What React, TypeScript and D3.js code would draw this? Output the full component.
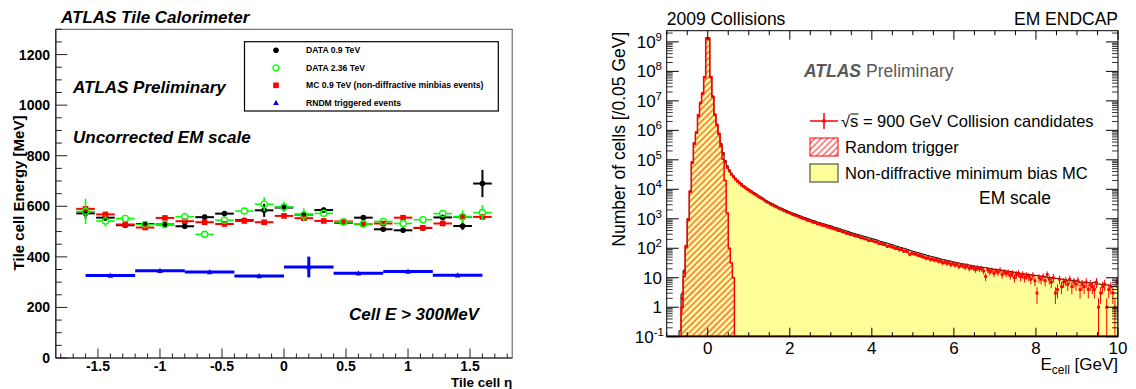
import React from 'react';
import * as d3 from 'd3';

// ================= LEFT CHART DATA (Tile cell energy vs eta) =================
const etaBins = [-1.6, -1.44, -1.28, -1.12, -0.96, -0.8, -0.64, -0.48, -0.32, -0.16, 0, 0.16, 0.32, 0.48, 0.64, 0.8, 0.96, 1.12, 1.28, 1.44, 1.6];
const etaHalfWidth = 0.075;
const data09 = [572, 555, 525, 530, 528, 521, 557, 571, 545, 584, 595, 567, 585, 535, 555, 509, 505, 514, 556, 522, 690];
const data09Err = [20, 12, 8, 8, 8, 8, 10, 8, 8, 26, 12, 12, 10, 8, 10, 8, 10, 8, 8, 15, 54];
const data236 = [580, 542, 552, 528, 528, 559, 489, 545, 581, 608, 597, 566, 572, 538, 530, 540, 532, 547, 571, 559, 575];
const data236Err = [50, 22, 10, 10, 12, 10, 8, 10, 10, 28, 20, 25, 12, 10, 15, 10, 12, 10, 10, 25, 30];
const mc09 = [590, 568, 528, 516, 554, 541, 537, 530, 542, 537, 562, 553, 542, 540, 529, 532, 555, 515, 532, 558, 558];
const rndmEta = [-1.4, -1.0, -0.6, -0.2, 0.2, 0.6, 1.0, 1.4];
const rndmHalfWidth = 0.2;
const rndm = [326, 345, 340, 324, 360, 335, 342, 327];
const rndmErr = [3, 3, 3, 3, 41, 3, 3, 3];
const leftXMajor = [-1.5, -1, -0.5, 0, 0.5, 1, 1.5];
const leftXLabels = ['-1.5', '-1', '-0.5', '0', '0.5', '1', '1.5'];
const leftYMajor = [0, 200, 400, 600, 800, 1000, 1200];
const leftLegend = ['DATA 0.9 TeV', 'DATA 2.36 TeV', 'MC 0.9 TeV (non-diffractive minbias events)', 'RNDM triggered events'];

// ================= RIGHT CHART DATA (EM endcap cell energy) =================
const binStart = -0.7; // GeV, low edge of first bin
const binWidth = 0.05; // GeV
// log10(number of cells) of the non-diffractive minimum bias MC, bins from -0.70 GeV
const mcLog10 = [
  -0.80, 0.45, 1.25, 2.10, 3.00, 3.95, 4.93, 5.57, 5.92, 6.52, 6.93, 7.26, 7.82, 9.12, 9.12, 7.82, 7.16, 6.55, 6.20, 5.90, 5.55, 5.25,
  4.98, 4.80, 4.66, 4.55, 4.46, 4.38, 4.31, 4.25, 4.19, 4.13, 4.08, 4.03,
  3.98, 3.94, 3.89, 3.85, 3.80, 3.76, 3.71, 3.67, 3.62, 3.58, 3.54, 3.51, 3.47, 3.44, 3.40, 3.37, 3.34, 3.31, 3.28, 3.25,
  3.22, 3.19, 3.17, 3.14, 3.11, 3.09, 3.06, 3.04, 3.01, 2.99, 2.96, 2.94, 2.92, 2.89, 2.87, 2.85, 2.83, 2.81, 2.79, 2.77,
  2.75, 2.72, 2.70, 2.68, 2.66, 2.63, 2.61, 2.59, 2.57, 2.54, 2.52, 2.50, 2.48, 2.46, 2.44, 2.42, 2.40, 2.38, 2.36, 2.34,
  2.32, 2.30, 2.28, 2.25, 2.23, 2.21, 2.19, 2.17, 2.15, 2.13, 2.11, 2.08, 2.06, 2.04, 2.02, 2.00, 1.98, 1.96, 1.93, 1.91,
  1.89, 1.87, 1.85, 1.83, 1.81, 1.79, 1.77, 1.75, 1.73, 1.71, 1.70, 1.68, 1.66, 1.64, 1.62, 1.61, 1.59, 1.58, 1.56, 1.54,
  1.53, 1.51, 1.50, 1.48, 1.47, 1.46, 1.44, 1.43, 1.42, 1.41, 1.39, 1.38, 1.37, 1.36, 1.35, 1.34, 1.33, 1.31, 1.30, 1.29,
  1.28, 1.27, 1.26, 1.25, 1.24, 1.23, 1.22, 1.21, 1.20, 1.19, 1.17, 1.16, 1.15, 1.14, 1.13, 1.12, 1.11, 1.10, 1.09, 1.08,
  1.07, 1.06, 1.05, 1.04, 1.03, 1.02, 1.01, 1.00, 0.99, 0.98, 0.97, 0.96, 0.95, 0.94, 0.93, 0.92, 0.91, 0.90, 0.92, 0.89,
  0.88, 0.84, 0.86, 0.85, 0.84, 0.83, 0.82, 0.82, 0.85, 0.78, 0.79, 0.78, 0.77, 0.79, 0.76, 0.75, 0.74, 0.70, 0.72, 0.70,
];
// log10(number of cells) of sqrt(s)=900 GeV collision candidates, same bins (null = empty)
const dataLog10 = [
  null, 0.30, 1.20, 2.05, 2.98, 3.93, 4.90, 5.55, 5.93, 6.50, 6.93, 7.25, 7.80, 9.12, 9.12, 7.80, 7.14, 6.53, 6.18, 5.88, 5.50, 5.20,
  4.92, 4.74, 4.62, 4.51, 4.42, 4.34, 4.27, 4.21, 4.14, 4.09, 4.04, 3.99,
  3.94, 3.90, 3.85, 3.81, 3.76, 3.72, 3.68, 3.63, 3.58, 3.55, 3.50, 3.47, 3.43, 3.40, 3.36, 3.33, 3.30, 3.27, 3.23, 3.21,
  3.18, 3.14, 3.12, 3.10, 3.06, 3.04, 3.01, 2.99, 2.95, 2.94, 2.91, 2.88, 2.87, 2.83, 2.82, 2.79, 2.77, 2.76, 2.72, 2.71,
  2.68, 2.66, 2.64, 2.60, 2.60, 2.56, 2.55, 2.51, 2.50, 2.47, 2.46, 2.43, 2.41, 2.40, 2.36, 2.35, 2.32, 2.31, 2.26, 2.27,
  2.25, 2.22, 2.21, 2.16, 2.16, 2.13, 2.12, 2.06, 2.08, 2.05, 2.03, 1.99, 1.99, 1.95, 1.96, 1.90, 1.91, 1.88, 1.79, 1.84,
  1.81, 1.80, 1.76, 1.75, 1.72, 1.70, 1.66, 1.68, 1.62, 1.64, 1.60, 1.61, 1.56, 1.58, 1.51, 1.54, 1.49, 1.52, 1.45, 1.49,
  1.43, 1.46, 1.38, 1.43, 1.40, 1.36, 1.41, 1.32, 1.36, 1.34, 1.28, 1.34, 1.30, 1.32, 1.23, 1.04, 1.28, 1.20, 1.26, 1.15,
  1.23, 1.18, 1.26, 1.11, 1.20, 1.15, 1.18, 1.08, 1.15, 1.00, 1.11, 1.15, 1.04, 1.11, 1.00, 1.08, 1.04, 0.95, 1.08, 0.90,
  0.48, 1.00, 0.95, 1.04, 0.90, 1.11, 0.95, 0.85, 1.00, 0.48, 0.60, 0.95, 0.70, 0.85, 0.90, 0.78, 0.95, 0.70, 0.85, 0.78,
  0.90, 0.60, 0.78, 0.70, 0.85, 0.60, 0.78, 0.70, 0.60, 0.85, 0.00, 0.48, 0.70, 0.78, 0.00, 0.60, 0.70, 0.48, 0.00, 0.85,
];
// log10(number of cells) of the random-trigger sample, bins from -0.65 GeV
const rtStart = -0.65;
const rtLog10 = [0.00, 1.03, 2.05, 2.96, 3.92, 4.93, 5.56, 5.90, 6.52, 6.92, 7.25, 7.81, 9.12, 9.12, 7.81, 7.14, 6.52, 6.18, 5.87, 5.45, 5.02, 4.30, 3.20, 2.00, 1.50, 1.00];
const rightXMajor = [0, 2, 4, 6, 8, 10];
const rightYExp = [-1, 0, 1, 2, 3, 4, 5, 6, 7, 8, 9];
const rightLegend = ['= 900 GeV Collision candidates', 'Random trigger', 'Non-diffractive minimum bias MC'];

const FONT = 'Liberation Sans, Arial, Helvetica, sans-serif';

export default function App() {
  // ---------- left scales ----------
  const xL = d3.scaleLinear().domain([-1.84, 1.84]).range([55.8, 512.2]);
  const yL = d3.scaleLinear().domain([0, 1300]).range([358, 29.3]);
  const [lx0, lx1] = xL.range();
  const [ly0, ly1] = yL.range();
  const leftXMinor = d3.range(-18, 19).map((k) => k / 10);
  const leftYMinor = d3.range(0, 1301, 50);

  // ---------- right scales ----------
  const xR = d3.scaleLinear().domain([-1, 10]).range([666.7, 1118]);
  const yR = d3.scaleLog().domain([0.1, 2.4e9]).range([336.7, 30.7]).clamp(true);
  const [rx0, rx1] = xR.range();
  const [ry0, ry1] = yR.range();
  const rightXMinor = d3.range(-2, 21).map((k) => k / 2);
  const rightYMinor: number[] = [];
  for (let e = -1; e <= 9; e++) for (let m = 2; m <= 9; m++) { const v = m * Math.pow(10, e); if (v < 2.4e9) rightYMinor.push(v); }

  const histPoints = (vals: (number | null)[], start: number) => {
    const pts: [number, number][] = [];
    vals.forEach((v, i) => {
      const a = start + i * binWidth;
      const c = v == null ? 0.1 : Math.pow(10, v);
      pts.push([xR(a), yR(c)], [xR(a + binWidth), yR(c)]);
    });
    return pts;
  };
  const mcPts = histPoints(mcLog10, binStart);
  const rtPts = histPoints(rtLog10, rtStart);
  const area = d3.area<[number, number]>().x((d) => d[0]).y0(ry0).y1((d) => d[1]);
  const closedLine = (pts: [number, number][]) => {
    const p: [number, number][] = [[pts[0][0], ry0], ...pts, [pts[pts.length - 1][0], ry0]];
    return d3.line()(p) || '';
  };

  const tri = (cx: number, cy: number, s: number) => `M${cx},${cy - s * 0.6}L${cx + s * 0.55},${cy + s * 0.45}L${cx - s * 0.55},${cy + s * 0.45}Z`;

  return (
    <svg width={1136} height={389} style={{ position: 'absolute', left: 0, top: 0, background: '#fff' }} fontFamily={FONT}>
      <defs>
        <pattern id="hatch" patternUnits="userSpaceOnUse" width={4.4} height={4.4} patternTransform="rotate(45)">
          <line x1={1} y1={-1} x2={1} y2={5.4} stroke="#ff2020" strokeWidth={1} />
        </pattern>
        <clipPath id="rclip"><rect x={rx0} y={ry1} width={rx1 - rx0} height={ry0 - ry1} /></clipPath>
      </defs>

      {/* ================= LEFT CHART ================= */}
      <text x={61} y={23.3} fontSize={17} fontWeight="bold" fontStyle="italic">ATLAS Tile Calorimeter</text>
      <rect x={lx0} y={ly1} width={lx1 - lx0} height={ly0 - ly1} fill="none" stroke="#555" strokeWidth={1} />
      <line x1={lx0} y1={ly1} x2={lx0} y2={ly0} stroke="#222" strokeWidth={1.2} />
      <line x1={lx0} y1={ly0} x2={lx1} y2={ly0} stroke="#222" strokeWidth={1.2} />
      {leftXMinor.map((v) => (
        <line key={'lxm' + v} x1={xL(v)} x2={xL(v)} y1={ly0} y2={ly0 - (leftXMajor.some((m) => Math.abs(m - v) < 1e-6) ? 9.5 : 4.5)} stroke="#222" strokeWidth={1} />
      ))}
      {leftXMajor.map((v, i) => (
        <text key={'lxl' + v} x={xL(v)} y={371} fontSize={14} fontWeight="bold" textAnchor="middle">{leftXLabels[i]}</text>
      ))}
      {leftYMinor.map((v) => (
        <line key={'lym' + v} x1={lx0} x2={lx0 + (v % 200 === 0 ? 11.5 : 6)} y1={yL(v)} y2={yL(v)} stroke="#222" strokeWidth={1} />
      ))}
      {leftYMajor.map((v) => (
        <text key={'lyl' + v} x={50} y={yL(v) + 5} fontSize={14} fontWeight="bold" textAnchor="end">{v}</text>
      ))}
      <text transform={`translate(24,193) rotate(-90)`} fontSize={15} fontWeight="bold" textAnchor="middle">Tile cell Energy [MeV]</text>
      <text x={lx1} y={386.5} fontSize={13.5} fontWeight="bold" textAnchor="end">Tile cell η</text>

      <text x={73} y={93.3} fontSize={17} fontWeight="bold" fontStyle="italic">ATLAS Preliminary</text>
      <text x={73} y={142.7} fontSize={17} fontWeight="bold" fontStyle="italic">Uncorrected EM scale</text>
      <text x={349} y={320} fontSize={17} fontWeight="bold" fontStyle="italic">Cell E &gt; 300MeV</text>

      {/* RNDM (blue) */}
      {rndmEta.map((e, i) => (
        <g key={'rn' + i}>
          <line x1={xL(e - rndmHalfWidth)} x2={xL(e + rndmHalfWidth)} y1={yL(rndm[i])} y2={yL(rndm[i])} stroke="#0000ff" strokeWidth={3} />
          <line x1={xL(e)} x2={xL(e)} y1={yL(rndm[i] - rndmErr[i])} y2={yL(rndm[i] + rndmErr[i])} stroke="#0000ff" strokeWidth={3} />
          <path d={tri(xL(e), yL(rndm[i]), 5)} fill="#0000ff" />
        </g>
      ))}
      {/* DATA 0.9 TeV (black) */}
      {etaBins.map((e, i) => (
        <g key={'d09' + i}>
          <line x1={xL(e - etaHalfWidth)} x2={xL(e + etaHalfWidth)} y1={yL(data09[i])} y2={yL(data09[i])} stroke="#000" strokeWidth={2} />
          <line x1={xL(e)} x2={xL(e)} y1={yL(data09[i] - data09Err[i])} y2={yL(data09[i] + data09Err[i])} stroke="#000" strokeWidth={2} />
          <circle cx={xL(e)} cy={yL(data09[i])} r={2.8} fill="#000" />
        </g>
      ))}
      {/* MC 0.9 TeV (red) */}
      {etaBins.map((e, i) => (
        <g key={'mc' + i}>
          <line x1={xL(e - etaHalfWidth)} x2={xL(e + etaHalfWidth)} y1={yL(mc09[i])} y2={yL(mc09[i])} stroke="#ff0000" strokeWidth={2} />
          <line x1={xL(e)} x2={xL(e)} y1={yL(mc09[i] - 5)} y2={yL(mc09[i] + 5)} stroke="#ff0000" strokeWidth={2} />
          <rect x={xL(e) - 2.8} y={yL(mc09[i]) - 2.8} width={5.6} height={5.6} fill="#ff0000" />
        </g>
      ))}
      {/* DATA 2.36 TeV (green open) */}
      {etaBins.map((e, i) => (
        <g key={'d236' + i}>
          <line x1={xL(e - etaHalfWidth)} x2={xL(e) - 3.2} y1={yL(data236[i])} y2={yL(data236[i])} stroke="#00ff00" strokeWidth={1.6} />
          <line x1={xL(e) + 3.2} x2={xL(e + etaHalfWidth)} y1={yL(data236[i])} y2={yL(data236[i])} stroke="#00ff00" strokeWidth={1.6} />
          <line x1={xL(e)} x2={xL(e)} y1={yL(data236[i] + data236Err[i])} y2={yL(data236[i]) - 3.2} stroke="#00ff00" strokeWidth={1.6} />
          <line x1={xL(e)} x2={xL(e)} y1={yL(data236[i]) + 3.2} y2={yL(data236[i] - data236Err[i])} stroke="#00ff00" strokeWidth={1.6} />
          <circle cx={xL(e)} cy={yL(data236[i])} r={3.1} fill="none" stroke="#00ff00" strokeWidth={1.3} />
        </g>
      ))}

      {/* left legend */}
      <rect x={244.5} y={41.7} width={253.8} height={69.3} fill="#fff" stroke="#000" strokeWidth={1.2} />
      <circle cx={276} cy={50.3} r={2.8} fill="#000" />
      <circle cx={276} cy={67.8} r={3} fill="none" stroke="#00ff00" strokeWidth={1.3} />
      <rect x={273.2} y={82.5} width={5.6} height={5.6} fill="#ff0000" />
      <path d={tri(276, 102.8, 5)} fill="#0000ff" />
      {leftLegend.map((t, i) => (
        <text key={'ll' + i} x={306} y={53.3 + i * 17.4} fontSize={8.6} fontWeight="bold">{t}</text>
      ))}

      {/* ================= RIGHT CHART ================= */}
      <text x={rx0} y={25} fontSize={17.5}>2009 Collisions</text>
      <text x={rx1} y={25} fontSize={17.5} textAnchor="end">EM ENDCAP</text>

      <g clipPath="url(#rclip)">
        <path d={area(mcPts) || ''} fill="#ffff99" />
        <path d={closedLine(mcPts)} fill="none" stroke="#000" strokeWidth={1} />
        <path d={area(rtPts) || ''} fill="url(#hatch)" />
        <path d={closedLine(rtPts)} fill="none" stroke="#ff0000" strokeWidth={1.5} />
        {dataLog10.map((v, i) => {
          if (v == null) return null;
          const a = binStart + i * binWidth;
          const n = Math.pow(10, v);
          const err = Math.sqrt(n);
          const cx = xR(a + binWidth / 2);
          const cy = yR(n);
          const lo = n - err > 0.1 ? yR(n - err) : ry0;
          const hi = yR(n + err);
          return (
            <g key={'dp' + i}>
              <line x1={cx} x2={cx} y1={hi} y2={lo} stroke="#ff0000" strokeWidth={1} />
              <line x1={xR(a)} x2={xR(a + binWidth)} y1={cy} y2={cy} stroke="#ff0000" strokeWidth={1} />
              <rect x={cx - 1.4} y={cy - 1.4} width={2.8} height={2.8} fill="#ff0000" />
            </g>
          );
        })}
      </g>
      <line x1={rx0} x2={rx1} y1={ry0 - 0.5} y2={ry0 - 0.5} stroke="#a00000" strokeWidth={2} />
      <rect x={rx0} y={ry1} width={rx1 - rx0} height={ry0 - ry1} fill="none" stroke="#000" strokeWidth={1} />

      {/* right x ticks */}
      {rightXMinor.map((v) => {
        const major = rightXMajor.includes(v);
        const len = major ? 9 : 4.5;
        return (
          <g key={'rxm' + v}>
            <line x1={xR(v)} x2={xR(v)} y1={ry0} y2={ry0 - len} stroke="#000" strokeWidth={1} />
            <line x1={xR(v)} x2={xR(v)} y1={ry1} y2={ry1 + len} stroke="#000" strokeWidth={1} />
          </g>
        );
      })}
      {rightXMajor.map((v) => (
        <text key={'rxl' + v} x={xR(v)} y={353.5} fontSize={17} textAnchor="middle">{v}</text>
      ))}
      <text x={rx1} y={369.5} fontSize={17} textAnchor="end">E<tspan fontSize={12} dy={4}>cell</tspan><tspan dy={-4}> [GeV]</tspan></text>

      {/* right y ticks */}
      {rightYExp.map((e) => {
        const y = yR(Math.pow(10, e));
        return (
          <g key={'ryM' + e}>
            <line x1={rx0} x2={rx0 + 12} y1={y} y2={y} stroke="#000" strokeWidth={1} />
            <line x1={rx1} x2={rx1 - 12} y1={y} y2={y} stroke="#000" strokeWidth={1} />
          </g>
        );
      })}
      {rightYMinor.map((v, i) => (
        <g key={'rym' + i}>
          <line x1={rx0} x2={rx0 + 6} y1={yR(v)} y2={yR(v)} stroke="#000" strokeWidth={0.8} />
          <line x1={rx1} x2={rx1 - 6} y1={yR(v)} y2={yR(v)} stroke="#000" strokeWidth={0.8} />
        </g>
      ))}
      {rightYExp.map((e) => {
        const y = yR(Math.pow(10, e)) + 5.8;
        if (e === 0) return <text key={'ryl' + e} x={662} y={y} fontSize={17} textAnchor="end">1</text>;
        if (e === 1) return <text key={'ryl' + e} x={662} y={y} fontSize={17} textAnchor="end">10</text>;
        return (
          <text key={'ryl' + e} x={e < 0 ? 664 : 662} y={y} fontSize={17} textAnchor="end">10<tspan fontSize={11.5} dy={-7}>{e}</tspan></text>
        );
      })}
      <text transform={`translate(625,31.7) rotate(-90)`} fontSize={17.5} textAnchor="end">Number of cells [/0.05 GeV]</text>

      {/* ATLAS Preliminary */}
      <text x={804} y={76.7} fontSize={17.5} fill="#5a5a5a"><tspan fontWeight="bold" fontStyle="italic">ATLAS</tspan><tspan dx={5}>Preliminary</tspan></text>

      {/* right legend */}
      <line x1={810} x2={838} y1={121} y2={121} stroke="#ff0000" strokeWidth={1.5} />
      <line x1={824} x2={824} y1={113} y2={129} stroke="#ff0000" strokeWidth={1.5} />
      <rect x={822.4} y={119.4} width={3.2} height={3.2} fill="#ff0000" />
      <text x={841} y={127} fontSize={16.5}>√s {rightLegend[0]}</text>
      <line x1={850.5} x2={858.5} y1={114} y2={114} stroke="#000" strokeWidth={1} />
      <rect x={810} y={138} width={28} height={18} fill="#fff" />
      <rect x={810} y={138} width={28} height={18} fill="url(#hatch)" stroke="#ff0000" strokeWidth={1} />
      <text x={845} y={153} fontSize={16.5}>{rightLegend[1]}</text>
      <rect x={810} y={164} width={28} height={18} fill="#ffff99" stroke="#333" strokeWidth={1} />
      <text x={845} y={179} fontSize={16.5}>{rightLegend[2]}</text>
      <text x={979} y={204} fontSize={17.5}>EM scale</text>
    </svg>
  );
}
